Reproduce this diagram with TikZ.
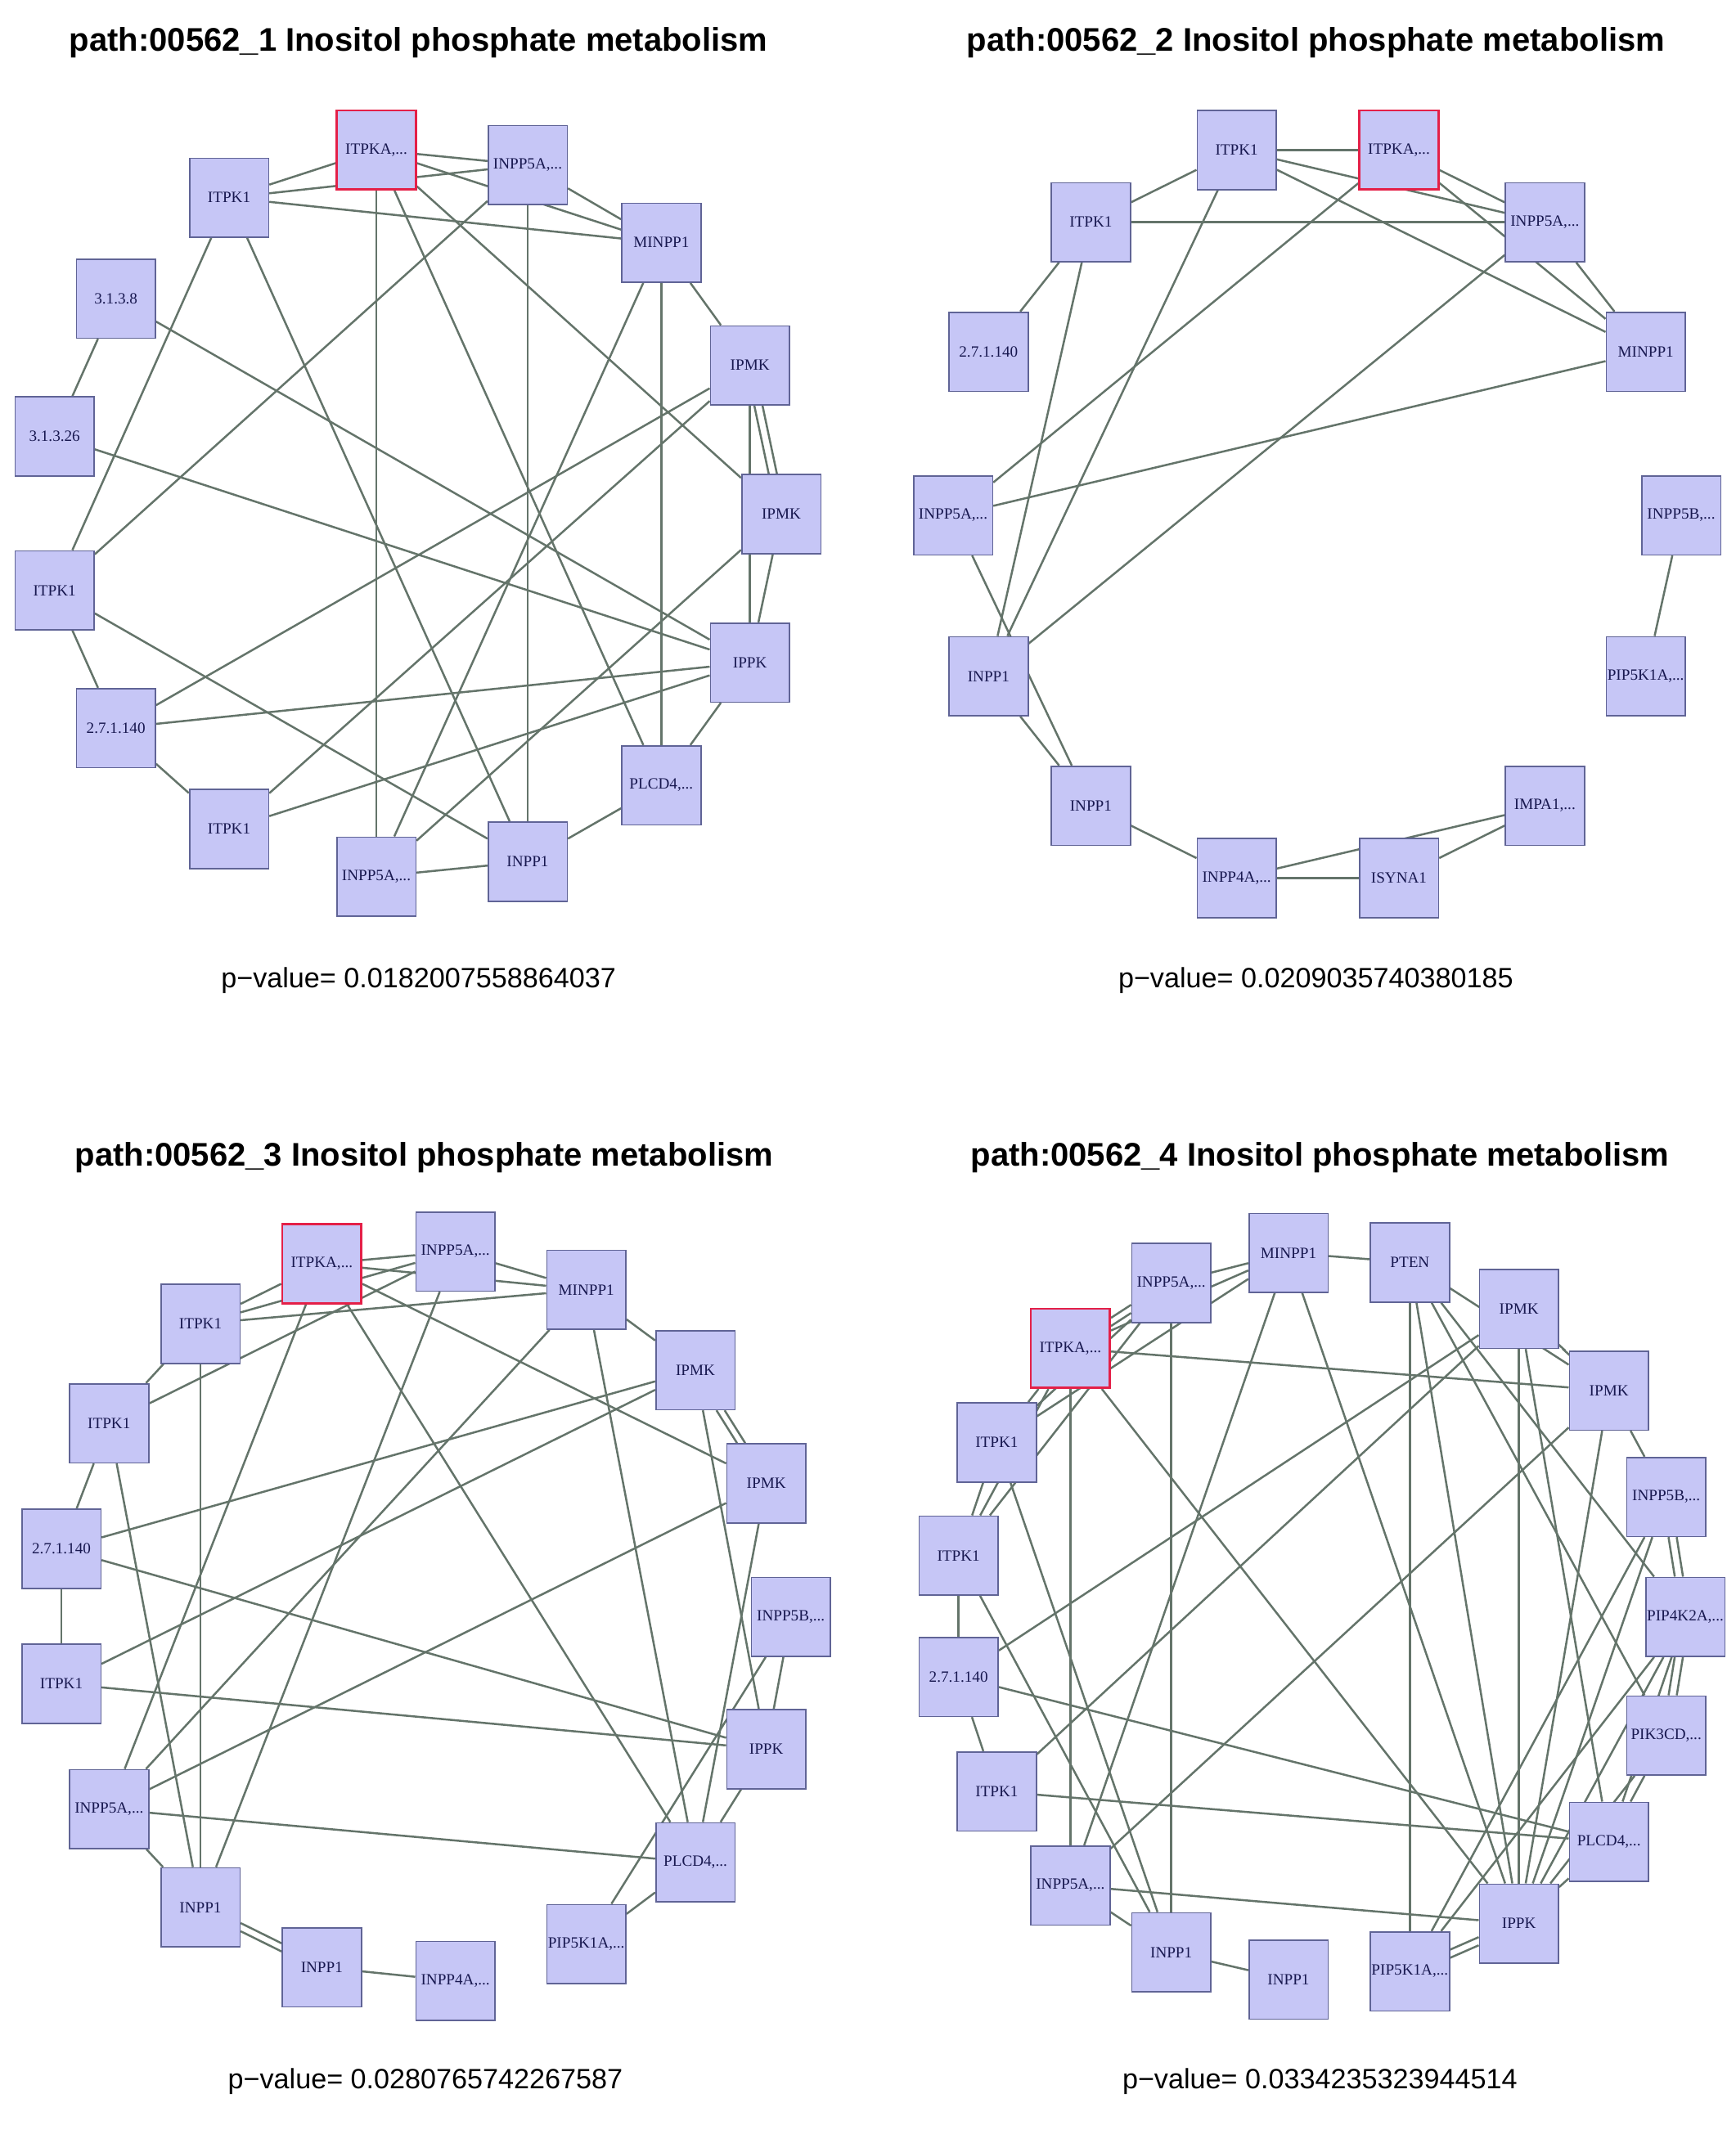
\documentclass[tikz,border=0pt]{standalone}
\usepackage{fontspec}
\setmainfont{Liberation Serif}
\newfontfamily\headfont{Liberation Sans}
\usetikzlibrary{backgrounds}
\definecolor{genefill}{RGB}{198,198,246}
\definecolor{geneline}{RGB}{96,100,150}
\definecolor{seedline}{RGB}{228,32,72}
\definecolor{genetext}{RGB}{24,24,80}
\definecolor{linkgray}{RGB}{100,116,106}
\tikzset{
  gene/.style={ % one gene box of a network
    draw=geneline, fill=genefill, line width=1pt,
    rectangle, minimum size=58pt, inner sep=0pt,
    text=genetext, font=\fontsize{11.5}{12}\selectfont
  },
  seed/.style={ % the query gene, red outline
    gene, draw=seedline, line width=1.6pt
  },
  link/.style={draw=linkgray, line width=1.5pt},
  headline/.style={font=\headfont\bfseries\fontsize{24}{28}\selectfont},
  pval/.style={font=\headfont\fontsize{20.5}{24}\selectfont}
}

\begin{document}
\begin{tikzpicture}[x=1pt,y=-1pt]
  \useasboundingbox (0,0) rectangle (1272.6,1569);

  % panel 1
  \node[headline] (head1) at (307,31) {path:00562\_1 Inositol phosphate metabolism};
  \node[seed] (a1) at (276,110) {ITPKA,...};
  \node[gene] (b1) at (387,121) {INPP5A,...};
  \node[gene] (c1) at (485,178) {MINPP1};
  \node[gene] (d1) at (550,268) {IPMK};
  \node[gene] (e1) at (573,377) {IPMK};
  \node[gene] (f1) at (550,486) {IPPK};
  \node[gene] (g1) at (485,576) {PLCD4,...};
  \node[gene] (h1) at (387,632) {INPP1};
  \node[gene] (i1) at (276,643) {INPP5A,...};
  \node[gene] (j1) at (168,608) {ITPK1};
  \node[gene] (k1) at (85,534) {2.7.1.140};
  \node[gene] (l1) at (40,433) {ITPK1};
  \node[gene] (m1) at (40,320) {3.1.3.26};
  \node[gene] (n1) at (85,219) {3.1.3.8};
  \node[gene] (o1) at (168,145) {ITPK1};
  \node[pval] (pv1) at (307,719) {p−value= 0.0182007558864037};

  % panel 2
  \node[headline] (head2) at (965,31) {path:00562\_2 Inositol phosphate metabolism};
  \node[gene] (a2) at (907,110) {ITPK1};
  \node[seed] (b2) at (1026,110) {ITPKA,...};
  \node[gene] (c2) at (1133,163) {INPP5A,...};
  \node[gene] (d2) at (1207,258) {MINPP1};
  \node[gene] (e2) at (1233,378) {INPP5B,...};
  \node[gene] (f2) at (1207,496) {PIP5K1A,...};
  \node[gene] (g2) at (1133,591) {IMPA1,...};
  \node[gene] (h2) at (1026,644) {ISYNA1};
  \node[gene] (i2) at (907,644) {INPP4A,...};
  \node[gene] (j2) at (800,591) {INPP1};
  \node[gene] (k2) at (725,496) {INPP1};
  \node[gene] (l2) at (699,378) {INPP5A,...};
  \node[gene] (m2) at (725,258) {2.7.1.140};
  \node[gene] (n2) at (800,163) {ITPK1};
  \node[pval] (pv2) at (965,719) {p−value= 0.0209035740380185};

  % panel 3
  \node[headline] (head3) at (311,849) {path:00562\_3 Inositol phosphate metabolism};
  \node[seed] (a3) at (236,927) {ITPKA,...};
  \node[gene] (b3) at (334,918) {INPP5A,...};
  \node[gene] (c3) at (430,946) {MINPP1};
  \node[gene] (d3) at (510,1005) {IPMK};
  \node[gene] (e3) at (562,1088) {IPMK};
  \node[gene] (f3) at (580,1186) {INPP5B,...};
  \node[gene] (g3) at (562,1283) {IPPK};
  \node[gene] (h3) at (510,1366) {PLCD4,...};
  \node[gene] (i3) at (430,1426) {PIP5K1A,...};
  \node[gene] (j3) at (334,1453) {INPP4A,...};
  \node[gene] (k3) at (236,1443) {INPP1};
  \node[gene] (l3) at (147,1399) {INPP1};
  \node[gene] (m3) at (80,1327) {INPP5A,...};
  \node[gene] (n3) at (45,1235) {ITPK1};
  \node[gene] (o3) at (45,1136) {2.7.1.140};
  \node[gene] (p3) at (80,1044) {ITPK1};
  \node[gene] (q3) at (147,971) {ITPK1};
  \node[pval] (pv3) at (312,1527) {p−value= 0.0280765742267587};

  % panel 4
  \node[headline] (head4) at (968,849) {path:00562\_4 Inositol phosphate metabolism};
  \node[seed] (a4) at (785,989) {ITPKA,...};
  \node[gene] (b4) at (859,941) {INPP5A,...};
  \node[gene] (c4) at (945,919) {MINPP1};
  \node[gene] (d4) at (1034,926) {PTEN};
  \node[gene] (e4) at (1114,960) {IPMK};
  \node[gene] (f4) at (1180,1020) {IPMK};
  \node[gene] (g4) at (1222,1098) {INPP5B,...};
  \node[gene] (h4) at (1236,1186) {PIP4K2A,...};
  \node[gene] (i4) at (1222,1273) {PIK3CD,...};
  \node[gene] (j4) at (1180,1351) {PLCD4,...};
  \node[gene] (k4) at (1114,1411) {IPPK};
  \node[gene] (l4) at (1034,1446) {PIP5K1A,...};
  \node[gene] (m4) at (945,1452) {INPP1};
  \node[gene] (n4) at (859,1432) {INPP1};
  \node[gene] (o4) at (785,1383) {INPP5A,...};
  \node[gene] (p4) at (731,1314) {ITPK1};
  \node[gene] (q4) at (703,1230) {2.7.1.140};
  \node[gene] (r4) at (703,1141) {ITPK1};
  \node[gene] (s4) at (731,1058) {ITPK1};
  \node[pval] (pv4) at (968,1527) {p−value= 0.0334235323944514};

  \begin{scope}[on background layer]
    \fill[white] (0,0) rectangle (1272.6,1569);
    % links of panel 1
    \foreach \u/\v in {o1/a1,o1/b1,o1/c1,a1/b1,a1/c1,b1/c1,a1/i1,a1/g1,a1/e1,
        b1/h1,b1/l1,c1/i1,c1/g1,c1/d1,d1/f1,d1/k1,d1/j1,e1/i1,e1/f1,f1/g1,
        n1/f1,m1/f1,k1/f1,j1/f1,g1/h1,h1/i1,o1/l1,o1/h1,l1/k1,l1/h1,k1/j1,n1/m1}
      \draw[link] (\u) -- (\v);
    \draw[link, transform canvas={xshift=3pt}] (d1) -- (e1);
    \draw[link, transform canvas={xshift=-3pt}] (d1) -- (e1);
    % links of panel 2
    \foreach \u/\v in {a2/b2,a2/c2,a2/d2,a2/n2,a2/k2,b2/c2,b2/d2,b2/l2,c2/d2,
        c2/k2,n2/c2,n2/m2,n2/k2,d2/l2,l2/j2,k2/j2,j2/i2,i2/h2,i2/g2,h2/g2,e2/f2}
      \draw[link] (\u) -- (\v);
    % links of panel 3
    \foreach \u/\v in {q3/a3,q3/b3,q3/c3,a3/b3,a3/c3,b3/c3,p3/b3,q3/p3,q3/l3,
        p3/o3,p3/l3,a3/e3,a3/m3,a3/h3,b3/l3,c3/m3,c3/h3,c3/d3,o3/d3,o3/g3,
        o3/n3,n3/d3,n3/g3,m3/e3,m3/h3,m3/l3,k3/j3,d3/g3,e3/h3,f3/g3,i3/f3,
        g3/h3,i3/h3}
      \draw[link] (\u) -- (\v);
    \draw[link, transform canvas={yshift=3pt}] (l3) -- (k3);
    \draw[link, transform canvas={yshift=-3pt}] (l3) -- (k3);
    \draw[link, transform canvas={xshift=3pt}] (d3) -- (e3);
    \draw[link, transform canvas={xshift=-3pt}] (d3) -- (e3);
    % links of panel 4
    \foreach \u/\v in {s4/a4,s4/b4,s4/c4,a4/c4,b4/c4,r4/a4,r4/b4,r4/s4,r4/q4,
        q4/p4,a4/o4,a4/k4,a4/f4,b4/n4,c4/o4,c4/k4,c4/d4,d4/l4,d4/k4,d4/i4,
        d4/h4,d4/f4,e4/q4,e4/p4,f4/o4,e4/j4,e4/k4,f4/g4,f4/k4,g4/k4,g4/l4,
        h4/k4,h4/l4,h4/j4,i4/j4,i4/k4,j4/k4,k4/o4,o4/n4,n4/m4,s4/n4,r4/n4,
        q4/j4,p4/j4}
      \draw[link] (\u) -- (\v);
    \draw[link, transform canvas={yshift=3pt}] (a4) -- (b4);
    \draw[link, transform canvas={yshift=-3pt}] (a4) -- (b4);
    \draw[link, transform canvas={xshift=2.5pt,yshift=-2.5pt}] (e4) -- (f4);
    \draw[link, transform canvas={xshift=-2.5pt,yshift=2.5pt}] (e4) -- (f4);
    \draw[link, transform canvas={xshift=3pt}] (g4) -- (h4);
    \draw[link, transform canvas={xshift=-3pt}] (g4) -- (h4);
    \draw[link, transform canvas={xshift=3pt}] (h4) -- (i4);
    \draw[link, transform canvas={xshift=-3pt}] (h4) -- (i4);
    \draw[link, transform canvas={yshift=3pt}] (k4) -- (l4);
    \draw[link, transform canvas={yshift=-3pt}] (k4) -- (l4);
  \end{scope}
\end{tikzpicture}
\end{document}
